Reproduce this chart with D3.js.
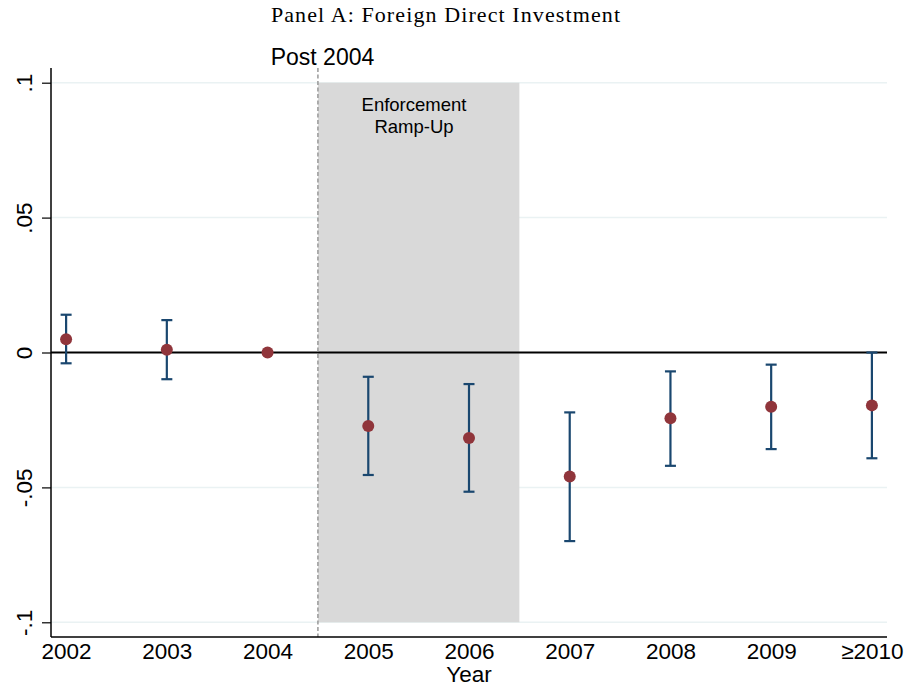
<!DOCTYPE html>
<html><head><meta charset="utf-8">
<script src="https://cdn.jsdelivr.net/npm/d3@7"></script>
<style>body{margin:0;background:#fff}</style>
</head><body>
<svg id="chart" width="907" height="689"></svg>
<script>
const years = [2002, 2003, 2004, 2005, 2006, 2007, 2008, 2009, 2010];
const yearLabels = ["2002", "2003", "2004", "2005", "2006", "2007", "2008", "2009", "\u22652010"];
const estimates = [0.0049, 0.0010, 0.0, -0.0272, -0.0317, -0.0460, -0.0244, -0.0201, -0.0196];
const upper = [0.0140, 0.0120, null, -0.0090, -0.0117, -0.0222, -0.0070, -0.0045, 0.0000];
const lower = [-0.0040, -0.0099, null, -0.0454, -0.0516, -0.0699, -0.0420, -0.0358, -0.0392];
const yTicks = [0.1, 0.05, 0, -0.05, -0.1];
const yTickLabels = [".1", ".05", "0", "-.05", "-.1"];
const eventLine = 2004.5;
const shadeRange = [2004.5, 2006.5];

const SANS = "Liberation Sans, Arial, sans-serif";
const svg = d3.select("#chart");
const x = d3.scaleLinear().domain([2001.85, 2010.15]).range([51, 887]);
const y = d3.scaleLinear().domain([-0.1, 0.1]).range([622.3, 82.7]);
const yBottom = 637, yTop = 68;

// gridlines
svg.append("g").selectAll("line").data(yTicks.filter(d => d !== 0)).join("line")
  .attr("x1", 51).attr("x2", 887).attr("y1", d => y(d)).attr("y2", d => y(d))
  .attr("stroke", "#eaf2f3").attr("stroke-width", 1.5);

// shaded region
svg.append("rect")
  .attr("x", x(shadeRange[0])).attr("width", x(shadeRange[1]) - x(shadeRange[0]))
  .attr("y", y(0.1)).attr("height", y(-0.1) - y(0.1))
  .attr("fill", "#d9d9d9");

const shadeMid = 414;
svg.append("text").attr("x", shadeMid).attr("y", 111).attr("text-anchor", "middle")
  .attr("font-family", SANS).attr("font-size", 18.5).text("Enforcement");
svg.append("text").attr("x", shadeMid).attr("y", 133).attr("text-anchor", "middle")
  .attr("font-family", SANS).attr("font-size", 18.5).text("Ramp-Up");

// zero line
svg.append("line").attr("x1", 51).attr("x2", 887).attr("y1", y(0)).attr("y2", y(0))
  .attr("stroke", "#000").attr("stroke-width", 2);

// dashed event line
svg.append("line").attr("x1", x(eventLine)).attr("x2", x(eventLine))
  .attr("y1", yTop).attr("y2", yBottom)
  .attr("stroke", "#999").attr("stroke-width", 1.5).attr("stroke-dasharray", "4,2.5");

svg.append("text").attr("x", 322.5).attr("y", 65).attr("text-anchor", "middle")
  .attr("font-family", SANS).attr("font-size", 23).text("Post 2004");

// axes
const yAxis = d3.axisLeft(y).tickValues(yTicks).tickSize(9).tickFormat((d, i) => yTickLabels[i]);
const gy = svg.append("g").attr("transform", "translate(51,0)").call(yAxis);
gy.select(".domain").remove();
gy.selectAll(".tick line").attr("stroke", "#000").attr("stroke-width", 1.2);
gy.selectAll(".tick text").attr("font-family", SANS)
  .attr("font-size", 22.5).attr("fill", "#000")
  .attr("transform", "rotate(-90)").attr("x", 0).attr("y", -19)
  .attr("dy", "0").attr("text-anchor", "middle");
svg.append("line").attr("x1", 51).attr("x2", 51).attr("y1", yTop).attr("y2", yBottom)
  .attr("stroke", "#000").attr("stroke-width", 1.5);

const xAxis = d3.axisBottom(x).tickValues(years).tickSize(0).tickFormat((d, i) => yearLabels[i]);
const gx = svg.append("g").attr("transform", `translate(0,${yBottom})`).call(xAxis);
gx.select(".domain").remove();
gx.selectAll(".tick text").attr("font-family", SANS)
  .attr("font-size", 22.5).attr("fill", "#000").attr("y", 22).attr("dy", "0");
svg.append("line").attr("x1", 51).attr("x2", 887).attr("y1", yBottom).attr("y2", yBottom)
  .attr("stroke", "#000").attr("stroke-width", 1.5);

svg.append("text").attr("x", 469).attr("y", 682).attr("text-anchor", "middle")
  .attr("font-family", SANS).attr("font-size", 22.5).text("Year");

// error bars
const navy = "#1a476f", maroon = "#90353b";
const ci = years.map((yr, i) => ({yr, lo: lower[i], hi: upper[i]})).filter(d => d.lo !== null);
const eb = svg.append("g").attr("stroke", navy).attr("stroke-width", 2.2);
eb.selectAll(".v").data(ci).join("line")
  .attr("x1", d => x(d.yr)).attr("x2", d => x(d.yr)).attr("y1", d => y(d.lo)).attr("y2", d => y(d.hi));
eb.selectAll(".t").data(ci).join("line")
  .attr("x1", d => x(d.yr) - 5.5).attr("x2", d => x(d.yr) + 5.5).attr("y1", d => y(d.hi)).attr("y2", d => y(d.hi));
eb.selectAll(".b").data(ci).join("line")
  .attr("x1", d => x(d.yr) - 5.5).attr("x2", d => x(d.yr) + 5.5).attr("y1", d => y(d.lo)).attr("y2", d => y(d.lo));

svg.append("g").selectAll("circle").data(years).join("circle")
  .attr("cx", d => x(d)).attr("cy", (d, i) => y(estimates[i])).attr("r", 6)
  .attr("fill", maroon);

// title
svg.append("text").attr("x", 446).attr("y", 21.5).attr("text-anchor", "middle")
  .attr("font-family", "Liberation Serif, Times New Roman, serif").attr("font-size", 22)
  .attr("letter-spacing", 1.1)
  .text("Panel A: Foreign Direct Investment");
</script>
</body></html>
